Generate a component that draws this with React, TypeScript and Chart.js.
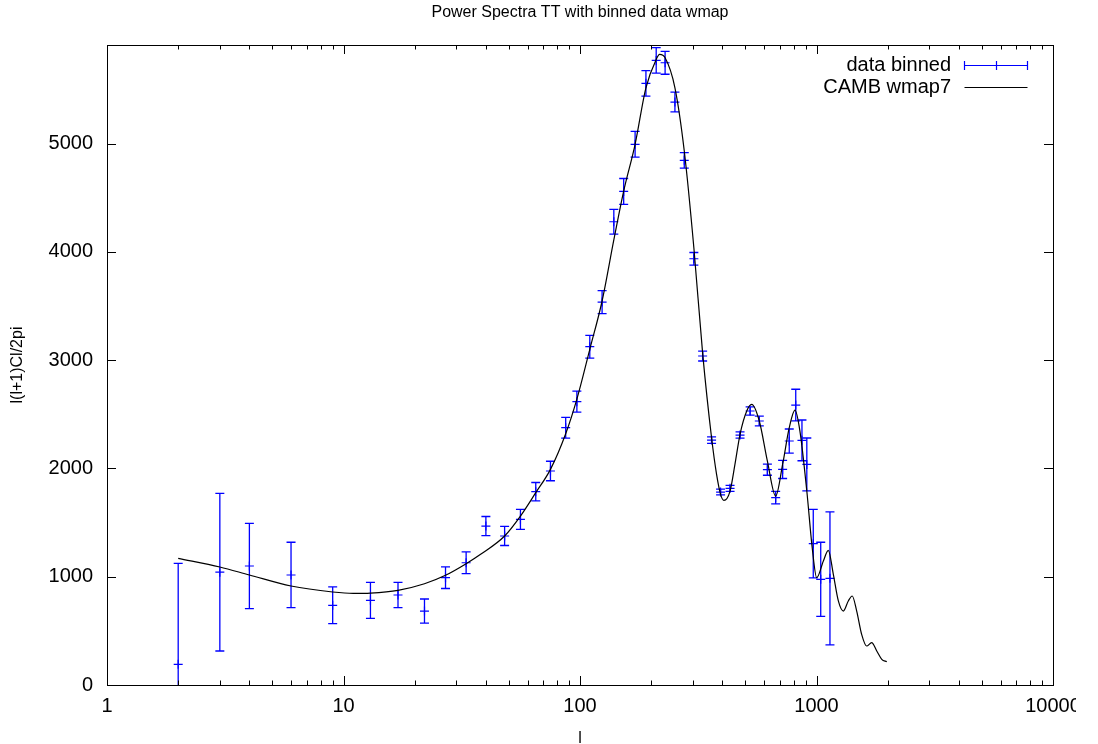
import React, { useEffect, useRef } from 'react';
import { Chart, registerables } from 'chart.js';

Chart.register(...registerables);

const TITLE = 'Power Spectra TT with binned data wmap';
const X_LABEL = 'l';
const Y_LABEL = 'l(l+1)Cl/2pi';
const SERIES_DATA = 'data binned';
const SERIES_MODEL = 'CAMB wmap7';

// binned data (multipole l, value, 1-sigma error)
const binL = [2, 3, 4, 6, 9, 13, 17, 22, 27, 33, 40, 48, 56, 65, 75, 87, 97, 110, 124, 139, 153, 171, 190, 210, 229, 252, 276, 303, 330, 360, 393, 431, 475, 524, 573, 620, 672, 719, 767, 817, 868, 910, 969, 1042, 1140];
const binValue = [191, 1042, 1099, 1016, 736, 782, 831, 683, 991, 1129, 1468, 1376, 1530, 1785, 1976, 2376, 2616, 3124, 3536, 4278, 4558, 4993, 5556, 5768, 5746, 5383, 4845, 3936, 3038, 2262, 1782, 1816, 2308, 2530, 2438, 1988, 1730, 1991, 2253, 2585, 2259, 2037, 1305, 976, 985];
const binError = [933, 728, 394, 302, 170, 166, 117, 111, 100, 100, 88, 88, 92, 85, 90, 96, 97, 105, 106, 114, 119, 119, 118, 117, 106, 91, 72, 58, 46, 30, 27, 28, 29, 38, 45, 51, 58, 84, 111, 146, 188, 244, 316, 342, 614];

// CAMB wmap7 model curve
const cambL = [2, 3, 4, 6, 9, 11, 13, 17, 22, 27, 33, 38, 48, 56, 65, 75, 87, 97, 110, 124, 139, 153, 171, 190, 210, 217, 229, 252, 276, 303, 330, 360, 378, 393, 406, 431, 452, 475, 507, 532, 573, 620, 672, 719, 767, 811, 851, 910, 959, 1002, 1069, 1122, 1178, 1237, 1298, 1363, 1416, 1479, 1552, 1630, 1711, 1798, 1888, 1982];
const cambValue = [1170, 1090, 1016, 914, 859, 846, 849, 874, 935, 1013, 1120, 1207, 1376, 1560, 1776, 1991, 2320, 2640, 3100, 3546, 4110, 4561, 4993, 5515, 5777, 5823, 5792, 5515, 4931, 4038, 3065, 2283, 1945, 1761, 1705, 1791, 2037, 2315, 2530, 2592, 2438, 2068, 1745, 2037, 2376, 2539, 2345, 1791, 1268, 991, 1145, 1244, 1022, 776, 683, 776, 822, 683, 468, 360, 391, 314, 237, 215];

const xTickValues = [1, 10, 100, 1000, 10000];
const xMinorMultipliers = [2, 3, 4, 5, 6, 7, 8, 9];
const yTickValues = [0, 1000, 2000, 3000, 4000, 5000];
const X_MIN = 1;
const X_MAX = 10000;
const Y_MIN = 0;
const Y_MAX = 5910;

const FONT = '"Liberation Sans", Arial, sans-serif';
const BLUE = 'rgb(0,0,255)';

const xAllTicks: { value: number; major: boolean }[] = [];
xTickValues.forEach((d, i) => {
  xAllTicks.push({ value: d, major: true });
  if (i < xTickValues.length - 1) xMinorMultipliers.forEach((m) => xAllTicks.push({ value: d * m, major: false }));
});

const gnuplotPlugin = {
  id: 'gnuplotPlugin',
  beforeDraw(chart: any) {
    const { ctx } = chart;
    ctx.save();
    ctx.beginPath();
    ctx.rect(0, 0, 1076, 744);
    ctx.clip();
  },
  beforeDatasetsDraw(chart: any) {
    const { ctx, chartArea: a, scales } = chart;
    const xs = scales.x;
    const ys = scales.y;
    ctx.save();
    ctx.beginPath();
    ctx.rect(a.left - 6, a.top - 1, a.right - a.left + 12, a.bottom - a.top + 2);
    ctx.clip();
    ctx.strokeStyle = BLUE;
    ctx.lineWidth = 1.3;
    const cap = 4.5;
    for (let i = 0; i < binL.length; i++) {
      const px = xs.getPixelForValue(binL[i]);
      const lo = binValue[i] - binError[i];
      const hi = binValue[i] + binError[i];
      const pyLo = ys.getPixelForValue(Math.max(lo, Y_MIN));
      const pyHi = ys.getPixelForValue(hi);
      ctx.beginPath();
      ctx.moveTo(px, pyLo);
      ctx.lineTo(px, pyHi);
      ctx.moveTo(px - cap, pyHi);
      ctx.lineTo(px + cap, pyHi);
      if (lo >= Y_MIN) {
        ctx.moveTo(px - cap, pyLo);
        ctx.lineTo(px + cap, pyLo);
      }
      ctx.stroke();
    }
    ctx.restore();
  },
  afterDraw(chart: any) {
    const { ctx, chartArea: a, scales } = chart;
    ctx.restore(); // end of right-edge clip
    const xs = scales.x;
    const ys = scales.y;
    ctx.save();
    ctx.strokeStyle = '#000';
    ctx.lineWidth = 1;
    // border
    ctx.strokeRect(Math.round(a.left) + 0.5, Math.round(a.top) + 0.5, Math.round(a.right - a.left), Math.round(a.bottom - a.top));
    // tick marks
    const major = 9;
    const minor = 4.5;
    ctx.beginPath();
    for (const t of xAllTicks) {
      const len = t.major ? major : minor;
      const px = Math.round(xs.getPixelForValue(t.value)) + 0.5;
      ctx.moveTo(px, a.bottom);
      ctx.lineTo(px, a.bottom - len);
      ctx.moveTo(px, a.top);
      ctx.lineTo(px, a.top + len);
    }
    for (const v of yTickValues) {
      const py = Math.round(ys.getPixelForValue(v)) + 0.5;
      ctx.moveTo(a.left, py);
      ctx.lineTo(a.left + major, py);
      ctx.moveTo(a.right, py);
      ctx.lineTo(a.right - major, py);
    }
    ctx.stroke();

    // title and axis labels
    ctx.fillStyle = '#000';
    ctx.font = `16px ${FONT}`;
    ctx.textAlign = 'center';
    ctx.textBaseline = 'middle';
    const cx = (a.left + a.right) / 2;
    ctx.fillText(TITLE, cx, 13);
    ctx.fillText(X_LABEL, cx, 739);
    ctx.save();
    ctx.translate(18, (a.top + a.bottom) / 2);
    ctx.rotate(-Math.PI / 2);
    ctx.fillText(Y_LABEL, 0, 0);
    ctx.restore();

    // key
    ctx.font = `20px ${FONT}`;
    ctx.textAlign = 'right';
    const tx = 951;
    const r1 = 65.5;
    const r2 = 87.5;
    ctx.fillText(SERIES_DATA, tx, r1);
    ctx.fillText(SERIES_MODEL, tx, r2);
    const sx0 = 964.5;
    const sx1 = 1027.5;
    const smid = 996;
    ctx.strokeStyle = BLUE;
    ctx.lineWidth = 1.2;
    ctx.beginPath();
    ctx.moveTo(sx0, r1);
    ctx.lineTo(sx1, r1);
    ctx.moveTo(sx0, r1 - 4.5);
    ctx.lineTo(sx0, r1 + 4.5);
    ctx.moveTo(sx1, r1 - 4.5);
    ctx.lineTo(sx1, r1 + 4.5);
    ctx.moveTo(smid + 0.5, r1 - 4.5);
    ctx.lineTo(smid + 0.5, r1 + 4.5);
    ctx.stroke();
    ctx.strokeStyle = '#000';
    ctx.lineWidth = 1;
    ctx.beginPath();
    ctx.moveTo(sx0, r2);
    ctx.lineTo(sx1, r2);
    ctx.stroke();
    ctx.restore();
  },
};

export default function App() {
  const canvasRef = useRef<HTMLCanvasElement | null>(null);

  useEffect(() => {
    document.body.style.margin = '0';
    const canvas = canvasRef.current;
    if (!canvas) return;
    const chart = new Chart(canvas, {
      type: 'scatter',
      data: {
        datasets: [
          {
            type: 'line',
            label: SERIES_MODEL,
            data: cambL.map((l, i) => ({ x: l, y: cambValue[i] })),
            borderColor: '#000',
            borderWidth: 1.2,
            pointRadius: 0,
            fill: false,
            cubicInterpolationMode: 'monotone',
          } as any,
          {
            type: 'scatter',
            label: SERIES_DATA,
            data: binL.map((l, i) => ({ x: l, y: binValue[i] })),
            borderColor: BLUE,
            backgroundColor: BLUE,
            borderWidth: 1.2,
            pointStyle: 'cross',
            pointRadius: 4.5,
          } as any,
        ],
      },
      options: {
        animation: false,
        responsive: false,
        devicePixelRatio: 1,
        layout: { padding: { top: 45, right: 45, left: 0, bottom: 0 } },
        plugins: {
          legend: { display: false },
          title: { display: false },
          tooltip: { enabled: false },
        },
        scales: {
          x: {
            type: 'logarithmic',
            min: X_MIN,
            max: X_MAX,
            grid: { display: false, drawTicks: false },
            border: { display: false },
            afterBuildTicks: (s: any) => {
              s.ticks = xTickValues.map((v) => ({ value: v, major: true }));
            },
            ticks: {
              autoSkip: false,
              maxRotation: 0,
              padding: 9,
              color: '#000',
              font: { family: FONT, size: 20 },
              callback: (v: any) => String(Math.round(Number(v))),
            },
            afterFit: (s: any) => {
              s.height = 59;
            },
          },
          y: {
            type: 'linear',
            min: Y_MIN,
            max: Y_MAX,
            grid: { display: false, drawTicks: false },
            border: { display: false },
            afterBuildTicks: (s: any) => {
              s.ticks = yTickValues.map((v) => ({ value: v }));
            },
            ticks: {
              autoSkip: false,
              padding: 14,
              color: '#000',
              font: { family: FONT, size: 20 },
              callback: (v: any) => String(Math.round(Number(v))),
            },
            afterFit: (s: any) => {
              s.width = 107;
            },
          },
        },
      },
      plugins: [gnuplotPlugin],
    });
    return () => chart.destroy();
  }, []);

  return (
    <div style={{ width: 1098, height: 744 }}>
      <canvas ref={canvasRef} width={1098} height={744} />
    </div>
  );
}
